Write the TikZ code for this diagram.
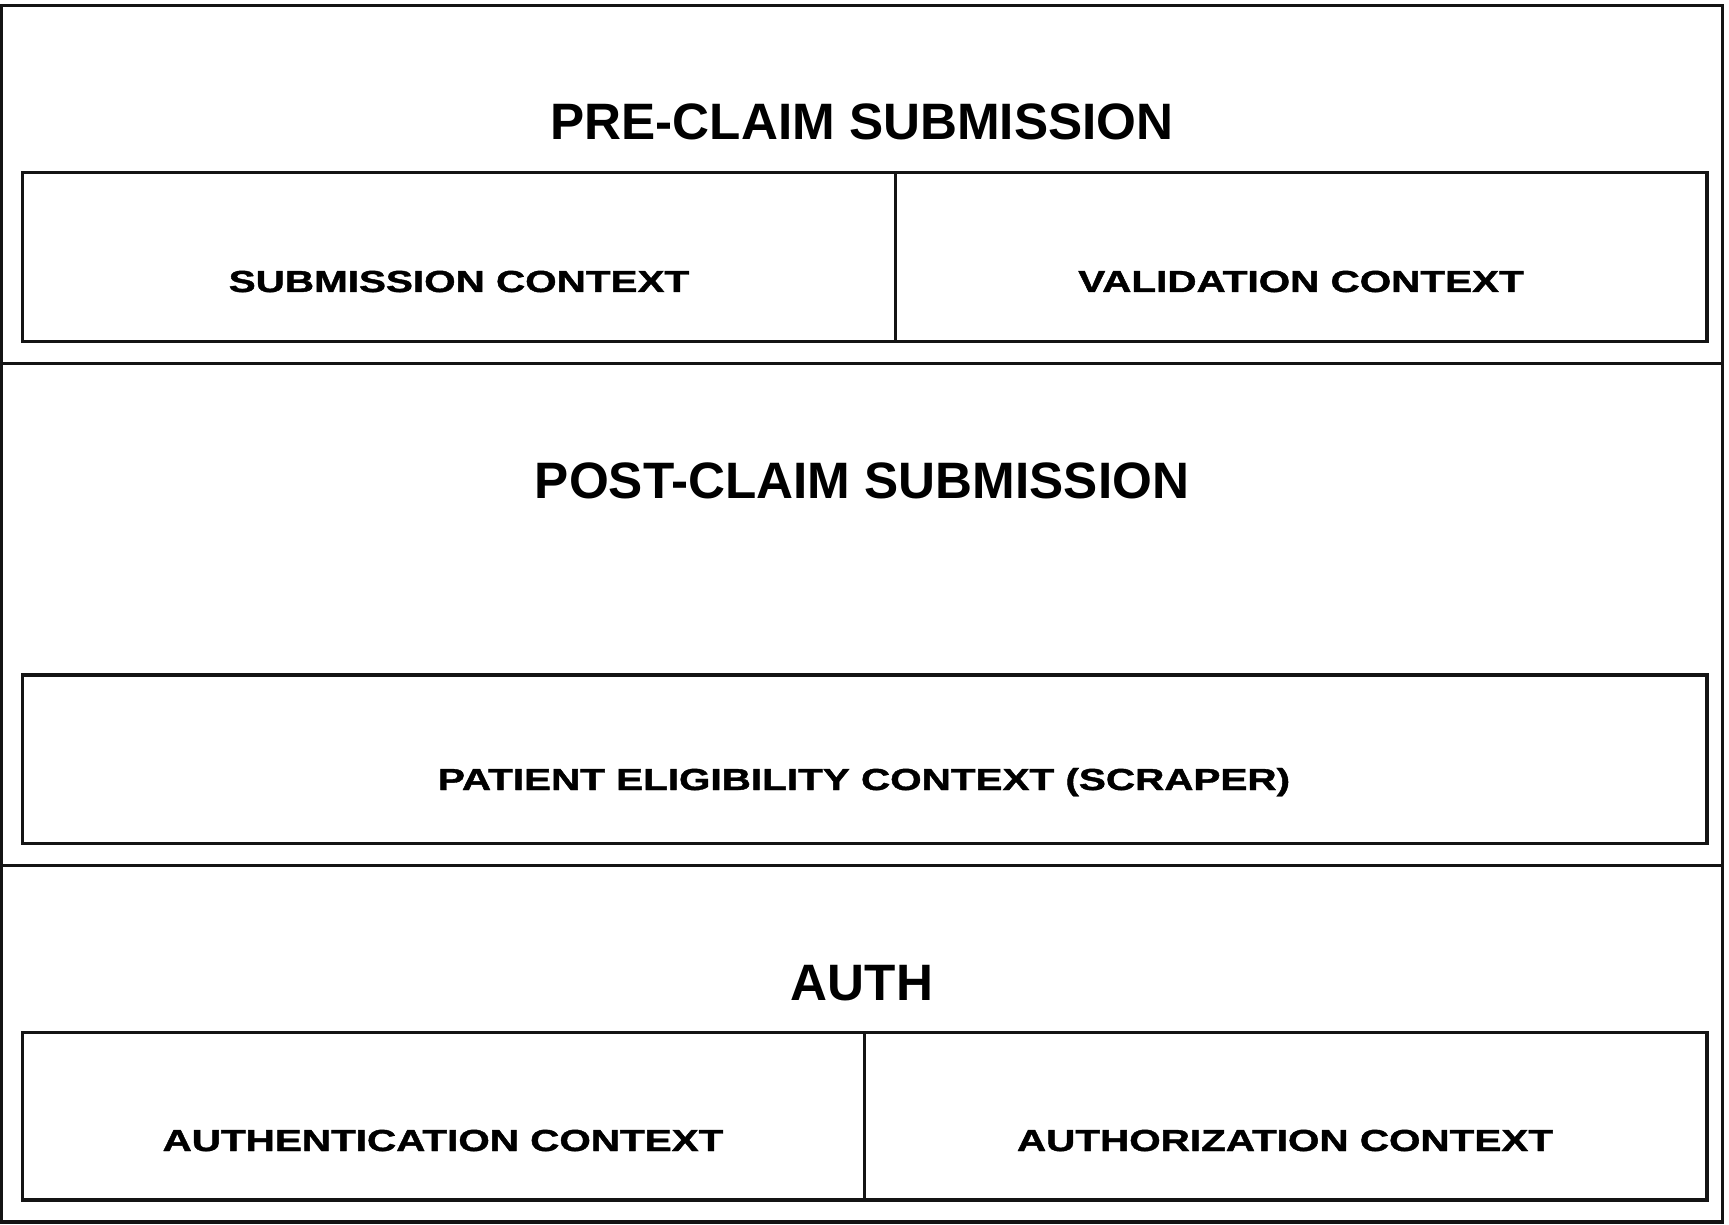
\documentclass[tikz,border=0pt]{standalone}
\usepackage{fontspec}
\setmainfont{Liberation Sans}
\newfontfamily\ctxfont[FakeBold=1.2]{Liberation Sans Bold}
\newcommand{\widecaps}[1]{\scalebox{1.33}[1]{#1}}
\begin{document}
\begin{tikzpicture}[x=0.5pt,y=-0.5pt,
  frame/.style={draw=black!92,line width=1.6pt},
  heading/.style={font=\bfseries\fontsize{25.6}{30}\selectfont,anchor=base,inner sep=0pt},
  ctx/.style={font=\ctxfont\fontsize{15.2}{18}\selectfont,anchor=base,inner sep=0pt}]
\useasboundingbox (0,0) rectangle (1729,1225);
\fill[white] (0,0) rectangle (1729,1225);
% outer frame and layer separators
\draw[frame] (1.5,5.5) rectangle (1722.5,1222);
\draw[frame] (1.5,363.3) -- (1722.5,363.3);
\draw[frame] (1.5,865.7) -- (1722.5,865.7);
% pre-claim layer
\draw[frame] (22.3,172.3) rectangle (1707,341.7);
\draw[frame] (895.7,172.3) -- (895.7,341.7);
% post-claim layer
\draw[frame] (22.3,675) rectangle (1707,843.3);
% auth layer
\draw[frame] (22.3,1032.7) rectangle (1707,1200);
\draw[frame] (864.3,1032.7) -- (864.3,1200);
% labels
\node[heading] (pre) at (862,140) {PRE-CLAIM SUBMISSION};
\node[ctx] (sub) at (459,292) {\widecaps{SUBMISSION CONTEXT}};
\node[ctx] (val) at (1301,292) {\widecaps{VALIDATION CONTEXT}};
\node[heading] (post) at (862,498) {POST-CLAIM SUBMISSION};
\node[ctx] (pat) at (864,790) {\widecaps{PATIENT ELIGIBILITY CONTEXT (SCRAPER)}};
\node[heading] (auth) at (862,1000) {AUTH};
\node[ctx] (authn) at (443,1151) {\widecaps{AUTHENTICATION CONTEXT}};
\node[ctx] (authz) at (1285,1151) {\widecaps{AUTHORIZATION CONTEXT}};
\end{tikzpicture}
\end{document}
